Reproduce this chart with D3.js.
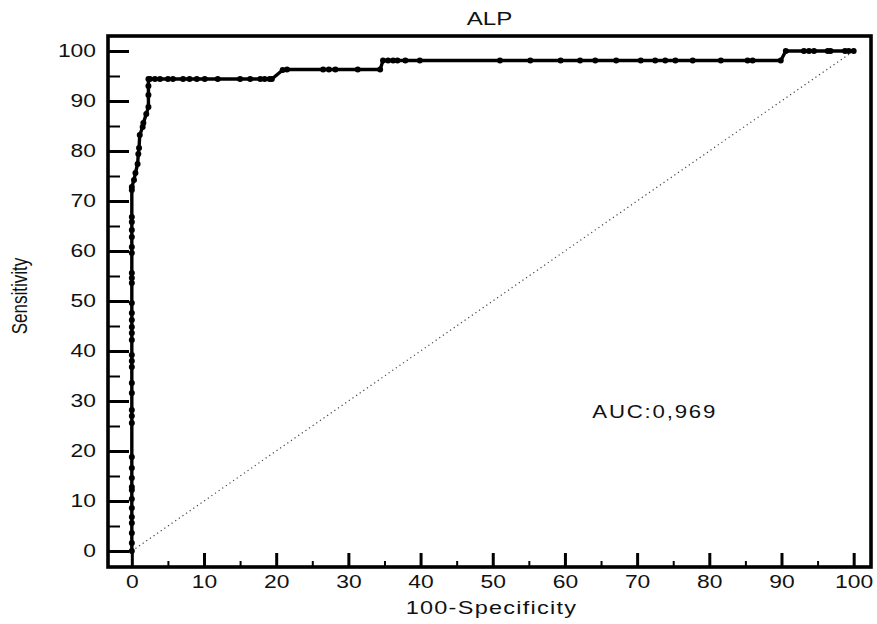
<!DOCTYPE html>
<html>
<head>
<meta charset="utf-8">
<script src="https://cdn.jsdelivr.net/npm/d3@7"></script>
<style>
    body { margin: 0; background: #fff; }
    text { font-family: "Liberation Sans", Arial, sans-serif; fill: #111; }
</style>
</head>
<body>
<div id="rocPlot"></div>
<script>
// ROC points: 100-Specificity (x) and Sensitivity (y)
const fpr = [0, 0, 0, 0, 0, 0, 0, 0, 0, 0, 0, 0, 0, 0, 0, 0, 0, 0, 0, 0,
    0, 0, 0, 0, 0, 0, 0, 0, 0, 0, 0, 0, 0, 0, 0, 0, 0,
    0.3, 0.5, 0.8, 0.9, 1.0, 1.1, 1.5, 1.6, 2.0, 2.3, 2.3, 2.3, 2.3,
    2.5, 3.2, 3.9, 5.0, 5.7, 7.1, 8.0, 9.0, 10.1, 11.9, 15.0, 16.4, 17.8, 18.4, 19.1, 19.4,
    20.9, 21.5, 26.5, 27.3, 28.2, 31.3, 34.4,
    34.8, 35.5, 36.2, 36.8, 37.9, 39.9, 51.0, 55.2, 59.4, 62.1, 64.2, 67.1, 70.5, 72.5,
    73.9, 75.3, 77.7, 81.6, 85.3, 86.0, 89.9,
    90.6, 93.1, 93.8, 94.5, 96.4, 96.8, 98.8, 99.3, 100];
const sens = [0, 1.6, 3.6, 5.6, 6.8, 8.6, 10.4, 12.2, 12.8, 14.6, 16.6, 18.8, 25.6, 27.0, 28.2, 31.6, 33.6, 36.8, 38.0, 39.2,
    42.2, 43.6, 44.8, 46.2, 47.6, 49.6, 53.6, 54.6, 55.6, 59.6, 60.8, 62.8, 64.2, 65.8, 66.8, 72.2, 72.8,
    74.2, 75.6, 77.4, 79.4, 80.6, 83.2, 84.8, 85.6, 87.4, 88.8, 91.2, 93.0, 94.4,
    94.4, 94.4, 94.4, 94.4, 94.4, 94.4, 94.4, 94.4, 94.4, 94.4, 94.4, 94.4, 94.4, 94.4, 94.4, 94.4,
    96.2, 96.3, 96.3, 96.3, 96.3, 96.3, 96.3,
    98.1, 98.1, 98.1, 98.1, 98.1, 98.1, 98.1, 98.1, 98.1, 98.1, 98.1, 98.1, 98.1, 98.1,
    98.1, 98.1, 98.1, 98.1, 98.1, 98.1, 98.1,
    100, 100, 100, 100, 100, 100, 100, 100, 100];

const majorTicks = [0, 10, 20, 30, 40, 50, 60, 70, 80, 90, 100];
const minorTicks = [5, 15, 25, 35, 45, 55, 65, 75, 85, 95];

const title = "ALP";
const xLabel = "100-Specificity";
const yLabel = "Sensitivity";
const aucLabel = "AUC:0,969";

const data = fpr.map((d, i) => ({x: d, y: sens[i]}));

// set the dimensions and margins of the graph
const margin = {top: 36, right: 6, bottom: 57, left: 108},
    width = 877 - margin.left - margin.right,
    height = 624 - margin.top - margin.bottom;

// the text in the picture is drawn a bit wide
const stretch = 1.27;

const svg = d3.select("#rocPlot")
    .append("svg")
    .attr("width", width + margin.left + margin.right)
    .attr("height", height + margin.top + margin.bottom)
    .append("g")
    .attr("transform", `translate(${margin.left},${margin.top})`);

// ---------------------------//
//       AXIS  AND SCALE      //
// ---------------------------//

const x = d3.scaleLinear()
    .domain([-3.3, 102.4])
    .range([0, width]);

const y = d3.scaleLinear()
    .domain([-3.2, 103])
    .range([height, 0]);

const styleTicks = (g, w) => {
    g.select(".domain").remove();
    g.selectAll(".tick line").attr("stroke", "#000").attr("stroke-width", w);
};

// X axis: ticks point up into the plot
svg.append("g")
    .attr("transform", `translate(0,${height})`)
    .call(d3.axisBottom(x).tickValues(minorTicks).tickSize(-6).tickFormat(""))
    .call(g => styleTicks(g, 2));

const xAxis = svg.append("g")
    .attr("transform", `translate(0,${height})`)
    .call(d3.axisBottom(x).tickValues(majorTicks).tickSize(-14).tickPadding(8))
    .call(g => styleTicks(g, 3));
xAxis.selectAll("text")
    .style("font-size", "18px")
    .attr("fill", "#111")
    .attr("transform", `scale(${stretch},1)`);

// Y axis: ticks point right into the plot
svg.append("g")
    .call(d3.axisLeft(y).tickValues(minorTicks).tickSize(-12).tickFormat(""))
    .call(g => styleTicks(g, 2));

const yAxis = svg.append("g")
    .call(d3.axisLeft(y).tickValues(majorTicks).tickSize(-21).tickPadding(12))
    .call(g => styleTicks(g, 3));
yAxis.selectAll("text")
    .style("font-size", "18px")
    .attr("fill", "#111")
    .attr("x", -12 / stretch)
    .attr("transform", `scale(${stretch},1)`);

// ---------------------------//
//       LINES AND POINTS     //
// ---------------------------//

// chance diagonal
svg.append("path")
    .datum([{x: 0, y: 0}, {x: 100, y: 100}])
    .attr("fill", "none")
    .attr("stroke", "#444")
    .attr("stroke-width", 1.2)
    .attr("stroke-dasharray", "1.2,3.2")
    .attr("d", d3.line().x(d => x(d.x)).y(d => y(d.y)));

// ROC curve
svg.append("path")
    .datum(data)
    .attr("fill", "none")
    .attr("stroke", "#000")
    .attr("stroke-width", 3.4)
    .attr("stroke-linejoin", "round")
    .attr("d", d3.line().x(d => x(d.x)).y(d => y(d.y)));

svg.append("g")
    .selectAll("circle")
    .data(data)
    .join("circle")
    .attr("cx", d => x(d.x))
    .attr("cy", d => y(d.y))
    .attr("r", 3)
    .style("fill", "#000");

// frame
svg.append("rect")
    .attr("x", 0)
    .attr("y", 0)
    .attr("width", width)
    .attr("height", height)
    .attr("fill", "none")
    .attr("stroke", "#000")
    .attr("stroke-width", 3.6);

// ---------------------------//
//       TEXTS                //
// ---------------------------//

svg.append("text")
    .attr("text-anchor", "middle")
    .attr("transform", `translate(${width / 2},-11) scale(${stretch},1)`)
    .style("font-size", "19px")
    .text(title);

svg.append("text")
    .attr("text-anchor", "middle")
    .attr("transform", `translate(${width / 2 + 2},${height + 47}) scale(${stretch},1)`)
    .style("font-size", "18.5px")
    .style("letter-spacing", "1px")
    .text(xLabel);

svg.append("text")
    .attr("text-anchor", "middle")
    .attr("transform", `translate(${27 - margin.left},${296 - margin.top}) rotate(-90) scale(1,${stretch})`)
    .style("font-size", "17px")
    .text(yLabel);

svg.append("text")
    .attr("text-anchor", "start")
    .attr("transform", `translate(${x(63.8)},${y(26.6)}) scale(${stretch},1)`)
    .style("font-size", "17.5px")
    .style("letter-spacing", "1.4px")
    .text(aucLabel);
</script>
</body>
</html>
